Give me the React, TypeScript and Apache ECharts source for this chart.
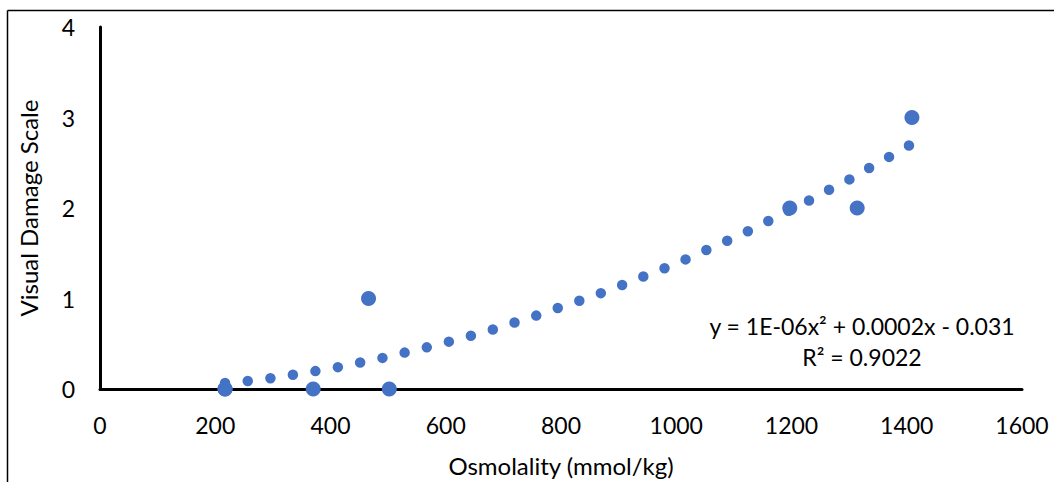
import React, { useEffect, useRef } from "react";
import * as echarts from "echarts";

const xTicks = [0, 200, 400, 600, 800, 1000, 1200, 1400, 1600];
const yTicks = [0, 1, 2, 3, 4];

const obsX = [217, 217, 370, 502, 466, 1197, 1314, 1409];
const obsY = [0, 0, 0, 0, 1, 2, 2, 3];

const trendX = [217, 257, 295, 335, 374, 413, 452, 491, 530, 569, 607, 646, 683, 721, 759, 797, 834, 872, 908, 945, 982, 1019, 1055, 1091, 1127, 1163, 1198, 1234, 1268, 1304, 1338, 1373, 1407];
const trendY = [0.066, 0.088, 0.118, 0.158, 0.198, 0.242, 0.294, 0.345, 0.404, 0.463, 0.526, 0.592, 0.661, 0.738, 0.815, 0.9, 0.981, 1.066, 1.154, 1.248, 1.341, 1.44, 1.543, 1.645, 1.752, 1.866, 1.98, 2.094, 2.212, 2.328, 2.454, 2.578, 2.703];

const eqLine1 = "y = 1E-06x² + 0.0002x - 0.031";
const eqLine2 = "R² = 0.9022";
const xTitle = "Osmolality (mmol/kg)";
const yTitle = "Visual Damage Scale";

const FONT = "Lato, 'Noto Sans', sans-serif";
const FS = 23;
const BLUE = "#4472C4";

export default function App() {
  const ref = useRef<HTMLDivElement>(null);
  useEffect(() => {
    if (!ref.current) return;
    const chart = echarts.init(ref.current, null, { renderer: "svg" });
    chart.setOption({
      animation: false,
      backgroundColor: "#fff",
      grid: { left: 100, right: 32, top: 27, bottom: 92, containLabel: false },
      xAxis: {
        type: "value",
        min: xTicks[0],
        max: xTicks[xTicks.length - 1],
        interval: 200,
        axisLine: { show: true, lineStyle: { color: "#000", width: 3 } },
        axisTick: { show: false },
        splitLine: { show: false },
        axisLabel: { color: "#000", fontSize: FS, fontFamily: FONT, margin: 24, formatter: (v: number) => String(v) },
        name: xTitle,
        nameLocation: "middle",
        nameGap: 64,
        nameTextStyle: { color: "#000", fontSize: 24, fontFamily: FONT },
      },
      yAxis: {
        type: "value",
        min: yTicks[0],
        max: yTicks[yTicks.length - 1],
        interval: 1,
        axisLine: { show: true, lineStyle: { color: "#000", width: 3 } },
        axisTick: { show: false },
        splitLine: { show: false },
        axisLabel: { color: "#000", fontSize: FS, fontFamily: FONT, margin: 25, formatter: (v: number) => String(v) },
        name: yTitle,
        nameLocation: "middle",
        nameGap: 60,
        nameTextStyle: { color: "#000", fontSize: 24, fontFamily: FONT },
      },
      graphic: [
        {
          type: "line",
          shape: { x1: 7.5, y1: 10.5, x2: 1060, y2: 10.5 },
          style: { stroke: "#000", lineWidth: 1.5 },
          silent: true,
        },
        {
          type: "line",
          shape: { x1: 7.5, y1: 10.5, x2: 7.5, y2: 490 },
          style: { stroke: "#000", lineWidth: 1.5 },
          silent: true,
        },
        {
          type: "text",
          x: 862,
          y: 326,
          style: { text: eqLine1, fill: "#000", font: `${FS}px ${FONT}`, textAlign: "center", textVerticalAlign: "middle" },
        },
        {
          type: "text",
          x: 862,
          y: 357,
          style: { text: eqLine2, fill: "#000", font: `${FS}px ${FONT}`, textAlign: "center", textVerticalAlign: "middle" },
        },
      ],
      series: [
        {
          type: "line",
          data: trendX.map((x, i) => [x, trendY[i]]),
          showSymbol: false,
          symbol: "none",
          smooth: true,
          lineStyle: { color: BLUE, width: 10.5, type: [0, 22.8], cap: "round" },
          z: 2,
        },
        {
          type: "scatter",
          data: obsX.map((x, i) => [x, obsY[i]]),
          symbol: "circle",
          symbolSize: 15,
          itemStyle: { color: BLUE, opacity: 1 },
          z: 3,
        },
      ],
    });
    return () => chart.dispose();
  }, []);
  return <div ref={ref} style={{ position: "fixed", left: 0, top: 0, width: 1054, height: 482 }} />;
}
